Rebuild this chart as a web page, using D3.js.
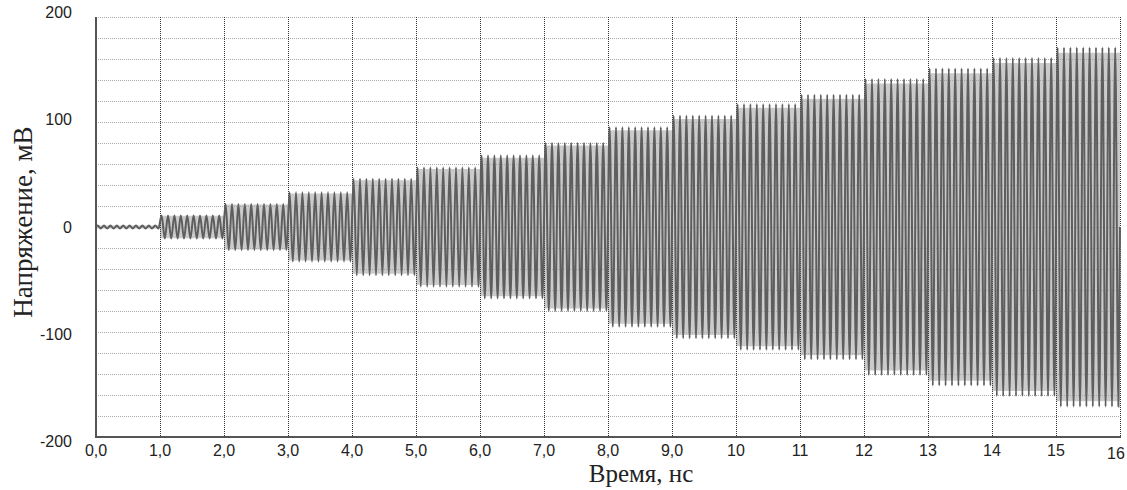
<!DOCTYPE html>
<html>
<head>
<meta charset="utf-8">
<script src="https://cdn.jsdelivr.net/npm/d3@7"></script>
<style>
  body { margin: 0; background: #fff; }
  svg { display: block; }
</style>
</head>
<body>
<div id="chart"></div>
<script>
// start of every 1 ns step, ns
const segmentStarts = [0, 1, 2, 3, 4, 5, 6, 7, 8, 9, 10, 11, 12, 13, 14, 15];
// oscillation amplitude in each step, mV
const amplitudes = [1.5, 11, 22, 33, 46, 57, 68, 80, 95, 106, 117, 126, 141, 151, 161, 171];
const cyclesPerSegment = 10;

const xTicks = [0, 1, 2, 3, 4, 5, 6, 7, 8, 9, 10, 11, 12, 13, 14, 15, 16];
const xTickLabels = ["0,0", "1,0", "2,0", "3,0", "4,0", "5,0", "6,0", "7,0", "8,0", "9,0",
  "10", "11", "12", "13", "14", "15", "16"];
const yTicks = [-200, -100, 0, 100, 200];
const yGrid = [-200, -180, -160, -140, -120, -100, -80, -60, -40, -20, 0,
  20, 40, 60, 80, 100, 120, 140, 160, 180, 200];

const W = 1127, H = 490;
const margin = { top: 17, right: 7, bottom: 53, left: 96 };
const width = W - margin.left - margin.right;
const height = H - margin.top - margin.bottom;

const svg = d3.select("#chart").append("svg")
  .attr("width", W)
  .attr("height", H);

const g = svg.append("g").attr("transform", `translate(${margin.left},${margin.top})`);

const x = d3.scaleLinear().domain([0, 16]).range([0, width]);
const y = d3.scaleLinear().domain([-200, 200]).range([height, 0]);

// peaks and troughs of the signal, one per half period
const points = [[0, 0]];
segmentStarts.forEach((t0, i) => {
  const half = 1 / (cyclesPerSegment * 2);
  for (let j = 0; j < cyclesPerSegment * 2; j++) {
    points.push([t0 + (j + 0.5) * half, j % 2 === 0 ? amplitudes[i] : -amplitudes[i]]);
  }
});
points.push([16, 0]);

// light band inside the envelope (the dense trace looks grey there)
const band = d3.area()
  .x(d => x(d[0]))
  .y0(d => y(-Math.abs(d[1])))
  .y1(d => y(Math.abs(d[1])))
  .curve(d3.curveStepAfter);

g.append("path")
  .datum(segmentStarts.map((t, i) => [t, amplitudes[i] * 0.97]).concat([[16, amplitudes[15] * 0.97]]))
  .attr("d", band)
  .style("fill", "#cbcbcb");

// horizontal grid, light dotted
g.selectAll(".hgrid")
  .data(yGrid)
  .enter()
  .append("line")
  .attr("class", "hgrid")
  .attr("x1", 0).attr("x2", width)
  .attr("y1", d => y(d) + 0.5).attr("y2", d => y(d) + 0.5)
  .style("stroke", "#a8a8a8")
  .style("stroke-width", "1px")
  .style("stroke-dasharray", "1,1");

// vertical grid, dark dotted
g.selectAll(".vgrid")
  .data(xTicks.slice(1))
  .enter()
  .append("line")
  .attr("class", "vgrid")
  .attr("x1", d => Math.round(x(d)) + 0.5).attr("x2", d => Math.round(x(d)) + 0.5)
  .attr("y1", 0).attr("y2", height)
  .style("stroke", "#333")
  .style("stroke-width", "1px")
  .style("stroke-dasharray", "1,1");

const line = d3.line()
  .x(d => x(d[0]))
  .y(d => y(d[1]))
  .curve(d3.curveMonotoneX);

g.append("path")
  .datum(points)
  .attr("d", line)
  .style("fill", "none")
  .style("stroke", "#5e5e5e")
  .style("stroke-width", "2px");

// axes: only left and bottom are solid
g.append("line")
  .attr("x1", 0).attr("x2", 0)
  .attr("y1", 0).attr("y2", height + 1)
  .style("stroke", "#555")
  .style("stroke-width", "2px");
g.append("line")
  .attr("x1", -1).attr("x2", width + 1)
  .attr("y1", height).attr("y2", height)
  .style("stroke", "#555")
  .style("stroke-width", "2px");

const tickFont = "'Liberation Sans', Arial, sans-serif";

g.selectAll(".xlabel")
  .data(xTicks)
  .enter()
  .append("text")
  .attr("class", "xlabel")
  .attr("x", d => d === 16 ? x(d) - 4 : x(d))
  .attr("y", d => d === 16 ? height + 22 : height + 19)
  .style("text-anchor", "middle")
  .style("font-family", tickFont)
  .style("font-size", "16px")
  .style("fill", "#222")
  .text((d, i) => xTickLabels[i]);

g.selectAll(".ylabel")
  .data(yTicks)
  .enter()
  .append("text")
  .attr("class", "ylabel")
  .attr("x", -24)
  .attr("y", d => y(d) - d * 0.022)
  .attr("dy", "0.35em")
  .style("text-anchor", "end")
  .style("font-family", tickFont)
  .style("font-size", "16px")
  .style("fill", "#222")
  .text(d => d);

const titleFont = "'Liberation Serif', 'Times New Roman', serif";

svg.append("text")
  .attr("x", 641)
  .attr("y", 482)
  .style("text-anchor", "middle")
  .style("font-family", titleFont)
  .style("font-size", "25px")
  .style("fill", "#222")
  .text("Время, нс");

svg.append("text")
  .attr("transform", `translate(32,${margin.top + y(0) - 5}) rotate(-90)`)
  .style("text-anchor", "middle")
  .style("font-family", titleFont)
  .style("font-size", "27px")
  .style("fill", "#222")
  .text("Напряжение, мВ");
</script>
</body>
</html>
